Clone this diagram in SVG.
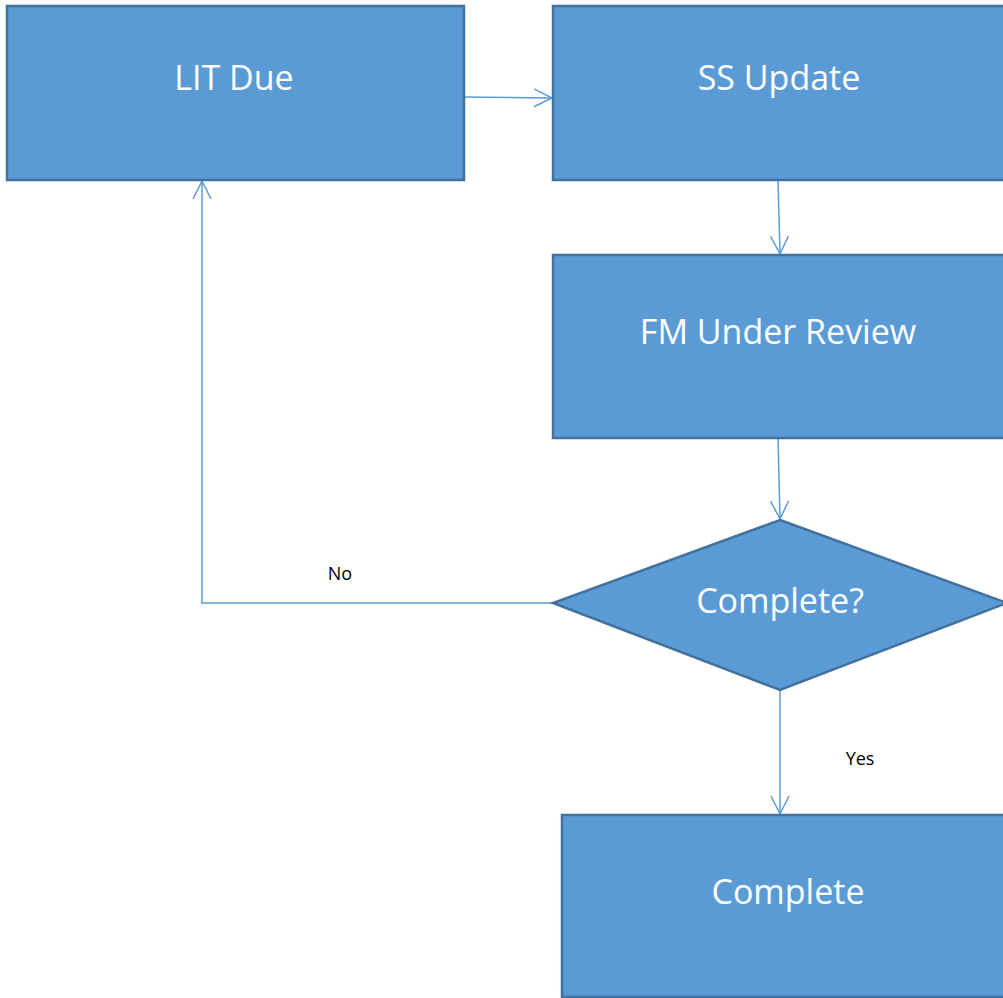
<svg xmlns="http://www.w3.org/2000/svg" width="1003" height="998" viewBox="0 0 1003 998">
<defs>
<style>
.node{fill:#5B9BD5;stroke:#41719C;stroke-width:2.5}
.nt{fill:#FFFFFF;font-family:"Open Sans","Liberation Sans",sans-serif;font-size:34px;font-weight:400;text-anchor:middle}
.conn{fill:none;stroke:#5B9BD5;stroke-width:1.5}
.lbl{fill:#000000;font-family:"Open Sans","Liberation Sans",sans-serif;font-size:18px;text-anchor:middle}
</style>
<marker id="arr" viewBox="0 0 20 20" refX="19" refY="10" markerWidth="20" markerHeight="20" markerUnits="userSpaceOnUse" orient="auto">
<path d="M1,1 L19,10 L1,19" fill="none" stroke="#5B9BD5" stroke-width="1.5"/>
</marker>
</defs>
<rect width="1003" height="998" fill="#FFFFFF"/>
<g id="connectors">
<path class="conn" d="M464,97 L552,98" marker-end="url(#arr)"/>
<path class="conn" d="M778,180 L780,254" marker-end="url(#arr)"/>
<path class="conn" d="M778,438 L780,519" marker-end="url(#arr)"/>
<path class="conn" d="M780,690 L780,814" marker-end="url(#arr)"/>
<path class="conn" d="M553,603 L202,603 L202,181" marker-end="url(#arr)"/>
<text class="lbl" x="340" y="580">No</text>
<text class="lbl" x="860" y="765">Yes</text>
</g>
<g id="lit-due">
<rect class="node" x="7" y="6" width="457" height="174"/>
<text class="nt" x="234" y="90">LIT Due</text>
</g>
<g id="ss-update">
<rect class="node" x="553" y="6" width="460" height="174"/>
<text class="nt" x="779" y="90">SS Update</text>
</g>
<g id="fm-under-review">
<rect class="node" x="553" y="255" width="460" height="183"/>
<text class="nt" x="778" y="344">FM Under Review</text>
</g>
<g id="complete-decision">
<polygon class="node" points="780,520 1007,603 780,690 553,603"/>
<text class="nt" x="780" y="613">Complete?</text>
</g>
<g id="complete">
<rect class="node" x="562" y="815" width="460" height="182"/>
<text class="nt" x="788" y="904">Complete</text>
</g>
</svg>
